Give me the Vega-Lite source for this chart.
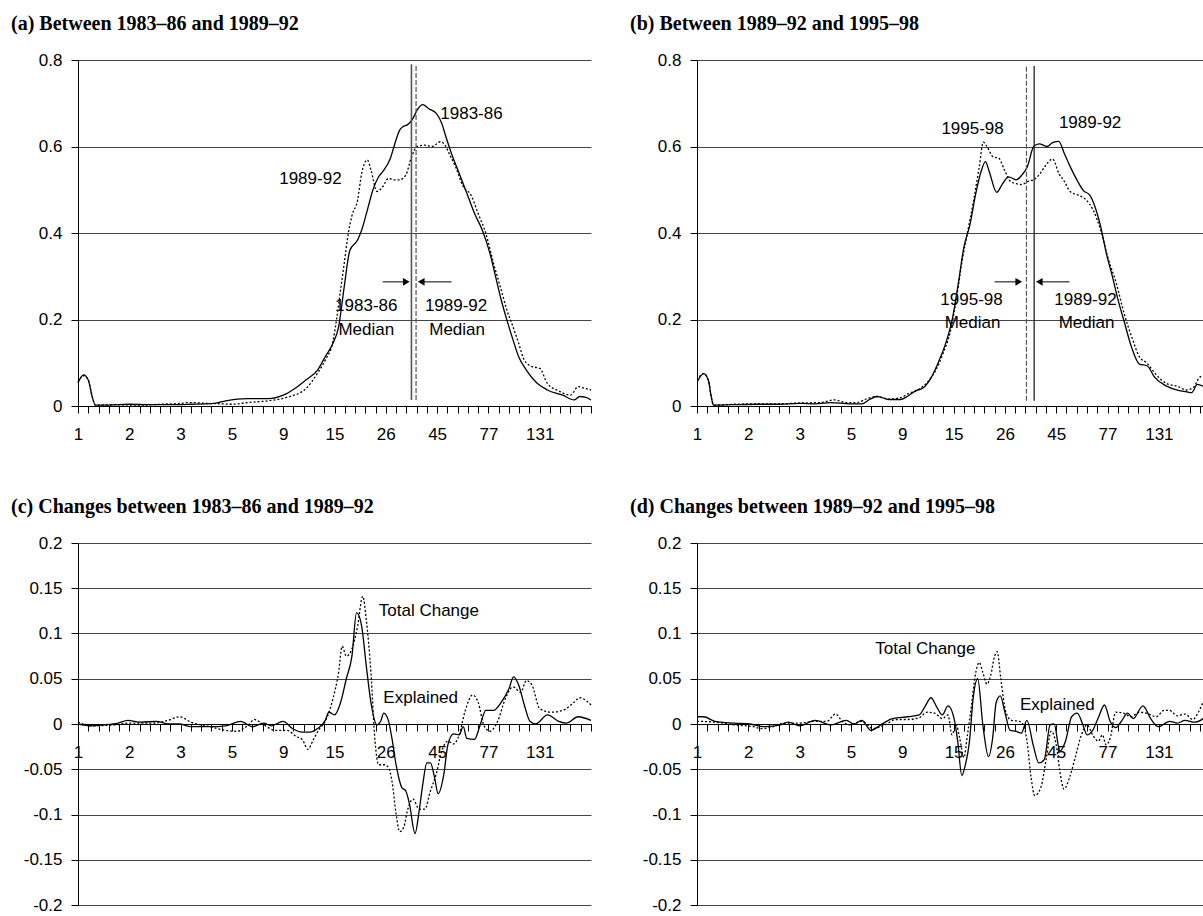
{
  "$schema": "https://vega.github.io/schema/vega-lite/v6.json",
  "padding": {"left": 11, "top": 14, "right": 0, "bottom": 0},
  "background": "white",
  "bounds": "flush",
  "columns": 2,
  "spacing": {"row": 137, "column": 106},
  "config": {
    "view": {"stroke": null},
    "axis": {"labelFont": "Liberation Sans", "labelFontSize": 17, "labelColor": "black", "domainColor": "black", "tickColor": "black", "tickSize": 7, "gridColor": "#444", "gridWidth": 1, "labelFlush": false, "labelOverlap": false},
    "axisX": {"grid": false, "labelPadding": 13},
    "axisY": {"grid": true, "labelPadding": 9},
    "title": {"font": "Liberation Serif", "fontSize": 20, "fontWeight": "bold", "color": "black", "anchor": "start", "frame": "group", "dx": -67, "offset": 17},
    "text": {"font": "Liberation Sans", "fontSize": 17, "color": "black"}
  },
  "datasets": {
    "a_lines": [
      {"series": "1983-86", "x": 0, "y": 0.054}, {"series": "1983-86", "x": 0.11, "y": 0.072}, {"series": "1983-86", "x": 0.2, "y": 0.06}, {"series": "1983-86", "x": 0.28, "y": 0.02}, {"series": "1983-86", "x": 0.34, "y": 0.002}, {"series": "1983-86", "x": 0.6, "y": 0.002}, {"series": "1983-86", "x": 1.0, "y": 0.004}, {"series": "1983-86", "x": 1.4, "y": 0.003}, {"series": "1983-86", "x": 1.8, "y": 0.003}, {"series": "1983-86", "x": 2.2, "y": 0.004}, {"series": "1983-86", "x": 2.65, "y": 0.006}, {"series": "1983-86", "x": 2.88, "y": 0.012}, {"series": "1983-86", "x": 3.3, "y": 0.017}, {"series": "1983-86", "x": 3.7, "y": 0.017}, {"series": "1983-86", "x": 4.0, "y": 0.025}, {"series": "1983-86", "x": 4.22, "y": 0.04}, {"series": "1983-86", "x": 4.44, "y": 0.06}, {"series": "1983-86", "x": 4.67, "y": 0.083}, {"series": "1983-86", "x": 4.82, "y": 0.114}, {"series": "1983-86", "x": 4.97, "y": 0.145}, {"series": "1983-86", "x": 5.08, "y": 0.183}, {"series": "1983-86", "x": 5.19, "y": 0.276}, {"series": "1983-86", "x": 5.3, "y": 0.36}, {"series": "1983-86", "x": 5.45, "y": 0.384}, {"series": "1983-86", "x": 5.53, "y": 0.407}, {"series": "1983-86", "x": 5.64, "y": 0.453}, {"series": "1983-86", "x": 5.75, "y": 0.5}, {"series": "1983-86", "x": 5.86, "y": 0.53}, {"series": "1983-86", "x": 5.94, "y": 0.542}, {"series": "1983-86", "x": 6.09, "y": 0.573}, {"series": "1983-86", "x": 6.16, "y": 0.6}, {"series": "1983-86", "x": 6.27, "y": 0.638}, {"series": "1983-86", "x": 6.35, "y": 0.647}, {"series": "1983-86", "x": 6.42, "y": 0.65}, {"series": "1983-86", "x": 6.53, "y": 0.665}, {"series": "1983-86", "x": 6.61, "y": 0.684}, {"series": "1983-86", "x": 6.72, "y": 0.697}, {"series": "1983-86", "x": 6.83, "y": 0.688}, {"series": "1983-86", "x": 6.98, "y": 0.677}, {"series": "1983-86", "x": 7.09, "y": 0.654}, {"series": "1983-86", "x": 7.17, "y": 0.623}, {"series": "1983-86", "x": 7.28, "y": 0.584}, {"series": "1983-86", "x": 7.43, "y": 0.538}, {"series": "1983-86", "x": 7.58, "y": 0.492}, {"series": "1983-86", "x": 7.73, "y": 0.445}, {"series": "1983-86", "x": 7.88, "y": 0.407}, {"series": "1983-86", "x": 8.03, "y": 0.353}, {"series": "1983-86", "x": 8.14, "y": 0.299}, {"series": "1983-86", "x": 8.25, "y": 0.245}, {"series": "1983-86", "x": 8.36, "y": 0.199}, {"series": "1983-86", "x": 8.48, "y": 0.153}, {"series": "1983-86", "x": 8.59, "y": 0.114}, {"series": "1983-86", "x": 8.74, "y": 0.083}, {"series": "1983-86", "x": 8.92, "y": 0.056}, {"series": "1983-86", "x": 9.15, "y": 0.037}, {"series": "1983-86", "x": 9.45, "y": 0.025}, {"series": "1983-86", "x": 9.67, "y": 0.014}, {"series": "1983-86", "x": 9.78, "y": 0.022}, {"series": "1983-86", "x": 9.9, "y": 0.02}, {"series": "1983-86", "x": 10.0, "y": 0.014},
      {"series": "1989-92", "x": 0, "y": 0.055}, {"series": "1989-92", "x": 0.11, "y": 0.07}, {"series": "1989-92", "x": 0.2, "y": 0.06}, {"series": "1989-92", "x": 0.28, "y": 0.02}, {"series": "1989-92", "x": 0.34, "y": 0.002}, {"series": "1989-92", "x": 0.7, "y": 0.003}, {"series": "1989-92", "x": 1.2, "y": 0.002}, {"series": "1989-92", "x": 1.6, "y": 0.004}, {"series": "1989-92", "x": 2.0, "y": 0.006}, {"series": "1989-92", "x": 2.2, "y": 0.008}, {"series": "1989-92", "x": 2.5, "y": 0.006}, {"series": "1989-92", "x": 2.8, "y": 0.005}, {"series": "1989-92", "x": 3.0, "y": 0.004}, {"series": "1989-92", "x": 3.3, "y": 0.008}, {"series": "1989-92", "x": 3.7, "y": 0.012}, {"series": "1989-92", "x": 4.07, "y": 0.02}, {"series": "1989-92", "x": 4.44, "y": 0.04}, {"series": "1989-92", "x": 4.67, "y": 0.076}, {"series": "1989-92", "x": 4.82, "y": 0.106}, {"series": "1989-92", "x": 4.97, "y": 0.15}, {"series": "1989-92", "x": 5.04, "y": 0.2}, {"series": "1989-92", "x": 5.12, "y": 0.27}, {"series": "1989-92", "x": 5.19, "y": 0.33}, {"series": "1989-92", "x": 5.27, "y": 0.4}, {"series": "1989-92", "x": 5.34, "y": 0.44}, {"series": "1989-92", "x": 5.45, "y": 0.476}, {"series": "1989-92", "x": 5.53, "y": 0.538}, {"series": "1989-92", "x": 5.64, "y": 0.569}, {"series": "1989-92", "x": 5.71, "y": 0.546}, {"series": "1989-92", "x": 5.83, "y": 0.496}, {"series": "1989-92", "x": 5.94, "y": 0.507}, {"series": "1989-92", "x": 6.05, "y": 0.526}, {"series": "1989-92", "x": 6.16, "y": 0.523}, {"series": "1989-92", "x": 6.27, "y": 0.523}, {"series": "1989-92", "x": 6.39, "y": 0.534}, {"series": "1989-92", "x": 6.5, "y": 0.575}, {"series": "1989-92", "x": 6.61, "y": 0.6}, {"series": "1989-92", "x": 6.76, "y": 0.603}, {"series": "1989-92", "x": 6.91, "y": 0.6}, {"series": "1989-92", "x": 7.06, "y": 0.611}, {"series": "1989-92", "x": 7.13, "y": 0.607}, {"series": "1989-92", "x": 7.25, "y": 0.58}, {"series": "1989-92", "x": 7.36, "y": 0.553}, {"series": "1989-92", "x": 7.51, "y": 0.507}, {"series": "1989-92", "x": 7.66, "y": 0.488}, {"series": "1989-92", "x": 7.8, "y": 0.445}, {"series": "1989-92", "x": 7.95, "y": 0.399}, {"series": "1989-92", "x": 8.1, "y": 0.33}, {"series": "1989-92", "x": 8.25, "y": 0.268}, {"series": "1989-92", "x": 8.36, "y": 0.222}, {"series": "1989-92", "x": 8.48, "y": 0.183}, {"series": "1989-92", "x": 8.59, "y": 0.145}, {"series": "1989-92", "x": 8.7, "y": 0.106}, {"series": "1989-92", "x": 8.85, "y": 0.091}, {"series": "1989-92", "x": 9.0, "y": 0.087}, {"series": "1989-92", "x": 9.15, "y": 0.052}, {"series": "1989-92", "x": 9.37, "y": 0.035}, {"series": "1989-92", "x": 9.6, "y": 0.025}, {"series": "1989-92", "x": 9.75, "y": 0.045}, {"series": "1989-92", "x": 9.9, "y": 0.04}, {"series": "1989-92", "x": 10.0, "y": 0.037}
    ],
    "a_med": [
      {"series": "1983-86", "x": 6.5, "ylo": 0.014, "yhi": 0.79},
      {"series": "1989-92", "x": 6.59, "ylo": 0.014, "yhi": 0.79}
    ],
    "a_arrows": [
      {"x": 5.94, "xtip": 6.4, "y": 0.287, "dir": "right"},
      {"x": 7.28, "xtip": 6.69, "y": 0.287, "dir": "left"}
    ],
    "a_text": [
      {"x": 7.67, "y": 0.674, "label": "1983-86"},
      {"x": 4.53, "y": 0.524, "label": "1989-92"},
      {"x": 5.62, "y": 0.231, "label": "1983-86"},
      {"x": 5.62, "y": 0.176, "label": "Median"},
      {"x": 7.37, "y": 0.231, "label": "1989-92"},
      {"x": 7.39, "y": 0.176, "label": "Median"}
    ],
    "b_lines": [
      {"series": "1989-92", "x": 0, "y": 0.055}, {"series": "1989-92", "x": 0.13, "y": 0.075}, {"series": "1989-92", "x": 0.22, "y": 0.06}, {"series": "1989-92", "x": 0.28, "y": 0.02}, {"series": "1989-92", "x": 0.32, "y": 0.002}, {"series": "1989-92", "x": 0.7, "y": 0.003}, {"series": "1989-92", "x": 1.2, "y": 0.004}, {"series": "1989-92", "x": 1.6, "y": 0.004}, {"series": "1989-92", "x": 2.0, "y": 0.006}, {"series": "1989-92", "x": 2.31, "y": 0.005}, {"series": "1989-92", "x": 2.61, "y": 0.008}, {"series": "1989-92", "x": 2.98, "y": 0.005}, {"series": "1989-92", "x": 3.21, "y": 0.005}, {"series": "1989-92", "x": 3.36, "y": 0.015}, {"series": "1989-92", "x": 3.51, "y": 0.022}, {"series": "1989-92", "x": 3.74, "y": 0.015}, {"series": "1989-92", "x": 3.96, "y": 0.015}, {"series": "1989-92", "x": 4.11, "y": 0.023}, {"series": "1989-92", "x": 4.26, "y": 0.035}, {"series": "1989-92", "x": 4.41, "y": 0.042}, {"series": "1989-92", "x": 4.56, "y": 0.065}, {"series": "1989-92", "x": 4.71, "y": 0.103}, {"series": "1989-92", "x": 4.86, "y": 0.15}, {"series": "1989-92", "x": 4.98, "y": 0.204}, {"series": "1989-92", "x": 5.09, "y": 0.282}, {"series": "1989-92", "x": 5.2, "y": 0.367}, {"series": "1989-92", "x": 5.32, "y": 0.42}, {"series": "1989-92", "x": 5.43, "y": 0.49}, {"series": "1989-92", "x": 5.54, "y": 0.544}, {"series": "1989-92", "x": 5.62, "y": 0.565}, {"series": "1989-92", "x": 5.69, "y": 0.544}, {"series": "1989-92", "x": 5.84, "y": 0.494}, {"series": "1989-92", "x": 5.95, "y": 0.513}, {"series": "1989-92", "x": 6.07, "y": 0.53}, {"series": "1989-92", "x": 6.22, "y": 0.523}, {"series": "1989-92", "x": 6.33, "y": 0.534}, {"series": "1989-92", "x": 6.44, "y": 0.554}, {"series": "1989-92", "x": 6.56, "y": 0.6}, {"series": "1989-92", "x": 6.67, "y": 0.606}, {"series": "1989-92", "x": 6.82, "y": 0.6}, {"series": "1989-92", "x": 6.93, "y": 0.609}, {"series": "1989-92", "x": 7.05, "y": 0.612}, {"series": "1989-92", "x": 7.16, "y": 0.583}, {"series": "1989-92", "x": 7.27, "y": 0.554}, {"series": "1989-92", "x": 7.42, "y": 0.519}, {"series": "1989-92", "x": 7.53, "y": 0.498}, {"series": "1989-92", "x": 7.65, "y": 0.488}, {"series": "1989-92", "x": 7.76, "y": 0.459}, {"series": "1989-92", "x": 7.87, "y": 0.413}, {"series": "1989-92", "x": 7.98, "y": 0.351}, {"series": "1989-92", "x": 8.1, "y": 0.297}, {"series": "1989-92", "x": 8.21, "y": 0.243}, {"series": "1989-92", "x": 8.32, "y": 0.197}, {"series": "1989-92", "x": 8.47, "y": 0.135}, {"series": "1989-92", "x": 8.62, "y": 0.097}, {"series": "1989-92", "x": 8.77, "y": 0.093}, {"series": "1989-92", "x": 8.92, "y": 0.066}, {"series": "1989-92", "x": 9.15, "y": 0.046}, {"series": "1989-92", "x": 9.38, "y": 0.036}, {"series": "1989-92", "x": 9.53, "y": 0.033}, {"series": "1989-92", "x": 9.64, "y": 0.031}, {"series": "1989-92", "x": 9.75, "y": 0.05}, {"series": "1989-92", "x": 9.86, "y": 0.046},
      {"series": "1995-98", "x": 0, "y": 0.06}, {"series": "1995-98", "x": 0.13, "y": 0.075}, {"series": "1995-98", "x": 0.22, "y": 0.06}, {"series": "1995-98", "x": 0.28, "y": 0.02}, {"series": "1995-98", "x": 0.32, "y": 0.002}, {"series": "1995-98", "x": 0.7, "y": 0.004}, {"series": "1995-98", "x": 1.2, "y": 0.005}, {"series": "1995-98", "x": 1.6, "y": 0.005}, {"series": "1995-98", "x": 2.0, "y": 0.007}, {"series": "1995-98", "x": 2.4, "y": 0.008}, {"series": "1995-98", "x": 2.68, "y": 0.014}, {"series": "1995-98", "x": 2.9, "y": 0.008}, {"series": "1995-98", "x": 3.1, "y": 0.008}, {"series": "1995-98", "x": 3.36, "y": 0.019}, {"series": "1995-98", "x": 3.51, "y": 0.022}, {"series": "1995-98", "x": 3.74, "y": 0.016}, {"series": "1995-98", "x": 3.96, "y": 0.019}, {"series": "1995-98", "x": 4.11, "y": 0.028}, {"series": "1995-98", "x": 4.34, "y": 0.04}, {"series": "1995-98", "x": 4.49, "y": 0.055}, {"series": "1995-98", "x": 4.64, "y": 0.08}, {"series": "1995-98", "x": 4.79, "y": 0.12}, {"series": "1995-98", "x": 4.94, "y": 0.174}, {"series": "1995-98", "x": 5.05, "y": 0.245}, {"series": "1995-98", "x": 5.17, "y": 0.338}, {"series": "1995-98", "x": 5.28, "y": 0.407}, {"series": "1995-98", "x": 5.39, "y": 0.475}, {"series": "1995-98", "x": 5.5, "y": 0.553}, {"series": "1995-98", "x": 5.58, "y": 0.61}, {"series": "1995-98", "x": 5.65, "y": 0.6}, {"series": "1995-98", "x": 5.77, "y": 0.576}, {"series": "1995-98", "x": 5.88, "y": 0.573}, {"series": "1995-98", "x": 5.99, "y": 0.546}, {"series": "1995-98", "x": 6.11, "y": 0.519}, {"series": "1995-98", "x": 6.22, "y": 0.514}, {"series": "1995-98", "x": 6.33, "y": 0.512}, {"series": "1995-98", "x": 6.44, "y": 0.519}, {"series": "1995-98", "x": 6.56, "y": 0.523}, {"series": "1995-98", "x": 6.67, "y": 0.535}, {"series": "1995-98", "x": 6.78, "y": 0.554}, {"series": "1995-98", "x": 6.93, "y": 0.571}, {"series": "1995-98", "x": 7.05, "y": 0.538}, {"series": "1995-98", "x": 7.16, "y": 0.519}, {"series": "1995-98", "x": 7.27, "y": 0.496}, {"series": "1995-98", "x": 7.42, "y": 0.488}, {"series": "1995-98", "x": 7.57, "y": 0.478}, {"series": "1995-98", "x": 7.72, "y": 0.453}, {"series": "1995-98", "x": 7.87, "y": 0.405}, {"series": "1995-98", "x": 8.02, "y": 0.338}, {"series": "1995-98", "x": 8.17, "y": 0.284}, {"series": "1995-98", "x": 8.32, "y": 0.215}, {"series": "1995-98", "x": 8.47, "y": 0.16}, {"series": "1995-98", "x": 8.62, "y": 0.114}, {"series": "1995-98", "x": 8.77, "y": 0.099}, {"series": "1995-98", "x": 8.92, "y": 0.076}, {"series": "1995-98", "x": 9.15, "y": 0.052}, {"series": "1995-98", "x": 9.38, "y": 0.045}, {"series": "1995-98", "x": 9.53, "y": 0.037}, {"series": "1995-98", "x": 9.68, "y": 0.044}, {"series": "1995-98", "x": 9.79, "y": 0.066}, {"series": "1995-98", "x": 9.86, "y": 0.07}
    ],
    "b_med": [
      {"series": "1989-92", "x": 6.57, "ylo": 0.012, "yhi": 0.786},
      {"series": "1995-98", "x": 6.42, "ylo": 0.012, "yhi": 0.786}
    ],
    "b_arrows": [
      {"x": 5.8, "xtip": 6.27, "y": 0.287, "dir": "right"},
      {"x": 7.26, "xtip": 6.67, "y": 0.287, "dir": "left"}
    ],
    "b_text": [
      {"x": 5.37, "y": 0.641, "label": "1995-98"},
      {"x": 7.66, "y": 0.654, "label": "1989-92"},
      {"x": 5.35, "y": 0.246, "label": "1995-98"},
      {"x": 5.37, "y": 0.193, "label": "Median"},
      {"x": 7.57, "y": 0.246, "label": "1989-92"},
      {"x": 7.59, "y": 0.193, "label": "Median"}
    ],
    "c_lines": [
      {"series": "Explained", "x": 0, "y": 0}, {"series": "Explained", "x": 0.26, "y": -0.002}, {"series": "Explained", "x": 0.49, "y": -0.001}, {"series": "Explained", "x": 0.78, "y": 0.001}, {"series": "Explained", "x": 0.97, "y": 0.004}, {"series": "Explained", "x": 1.23, "y": 0.002}, {"series": "Explained", "x": 1.53, "y": 0.003}, {"series": "Explained", "x": 1.76, "y": 0}, {"series": "Explained", "x": 1.98, "y": 0}, {"series": "Explained", "x": 2.2, "y": -0.003}, {"series": "Explained", "x": 2.58, "y": -0.003}, {"series": "Explained", "x": 2.88, "y": -0.002}, {"series": "Explained", "x": 3.17, "y": 0.003}, {"series": "Explained", "x": 3.4, "y": -0.003}, {"series": "Explained", "x": 3.62, "y": 0.001}, {"series": "Explained", "x": 3.77, "y": -0.002}, {"series": "Explained", "x": 4.0, "y": 0.003}, {"series": "Explained", "x": 4.18, "y": -0.005}, {"series": "Explained", "x": 4.37, "y": -0.009}, {"series": "Explained", "x": 4.52, "y": -0.009}, {"series": "Explained", "x": 4.67, "y": -0.005}, {"series": "Explained", "x": 4.82, "y": 0.004}, {"series": "Explained", "x": 4.89, "y": 0.013}, {"series": "Explained", "x": 5.0, "y": 0.01}, {"series": "Explained", "x": 5.12, "y": 0.024}, {"series": "Explained", "x": 5.23, "y": 0.05}, {"series": "Explained", "x": 5.34, "y": 0.075}, {"series": "Explained", "x": 5.43, "y": 0.123}, {"series": "Explained", "x": 5.53, "y": 0.108}, {"series": "Explained", "x": 5.62, "y": 0.064}, {"series": "Explained", "x": 5.71, "y": 0.024}, {"series": "Explained", "x": 5.83, "y": -0.001}, {"series": "Explained", "x": 5.9, "y": 0.003}, {"series": "Explained", "x": 5.96, "y": 0.012}, {"series": "Explained", "x": 6.05, "y": 0.004}, {"series": "Explained", "x": 6.12, "y": -0.016}, {"series": "Explained", "x": 6.2, "y": -0.045}, {"series": "Explained", "x": 6.31, "y": -0.07}, {"series": "Explained", "x": 6.39, "y": -0.074}, {"series": "Explained", "x": 6.46, "y": -0.088}, {"series": "Explained", "x": 6.57, "y": -0.121}, {"series": "Explained", "x": 6.65, "y": -0.096}, {"series": "Explained", "x": 6.72, "y": -0.067}, {"series": "Explained", "x": 6.8, "y": -0.043}, {"series": "Explained", "x": 6.87, "y": -0.043}, {"series": "Explained", "x": 6.95, "y": -0.059}, {"series": "Explained", "x": 7.02, "y": -0.077}, {"series": "Explained", "x": 7.13, "y": -0.056}, {"series": "Explained", "x": 7.21, "y": -0.023}, {"series": "Explained", "x": 7.32, "y": -0.011}, {"series": "Explained", "x": 7.43, "y": -0.012}, {"series": "Explained", "x": 7.51, "y": -0.003}, {"series": "Explained", "x": 7.58, "y": -0.016}, {"series": "Explained", "x": 7.73, "y": -0.017}, {"series": "Explained", "x": 7.84, "y": -0.001}, {"series": "Explained", "x": 7.95, "y": 0.015}, {"series": "Explained", "x": 8.1, "y": 0.015}, {"series": "Explained", "x": 8.25, "y": 0.024}, {"series": "Explained", "x": 8.4, "y": 0.039}, {"series": "Explained", "x": 8.49, "y": 0.052}, {"series": "Explained", "x": 8.59, "y": 0.043}, {"series": "Explained", "x": 8.7, "y": 0.021}, {"series": "Explained", "x": 8.81, "y": 0.003}, {"series": "Explained", "x": 8.92, "y": 0}, {"series": "Explained", "x": 9.15, "y": 0.01}, {"series": "Explained", "x": 9.37, "y": 0.003}, {"series": "Explained", "x": 9.52, "y": 0.001}, {"series": "Explained", "x": 9.75, "y": 0.008}, {"series": "Explained", "x": 10.0, "y": 0.004},
      {"series": "Total Change", "x": 0, "y": 0.002}, {"series": "Total Change", "x": 0.26, "y": -0.002}, {"series": "Total Change", "x": 0.71, "y": -0.001}, {"series": "Total Change", "x": 1.01, "y": 0.001}, {"series": "Total Change", "x": 1.46, "y": 0.001}, {"series": "Total Change", "x": 1.75, "y": 0.004}, {"series": "Total Change", "x": 1.98, "y": 0.008}, {"series": "Total Change", "x": 2.2, "y": 0.002}, {"series": "Total Change", "x": 2.58, "y": -0.003}, {"series": "Total Change", "x": 2.88, "y": -0.007}, {"series": "Total Change", "x": 3.1, "y": -0.008}, {"series": "Total Change", "x": 3.32, "y": -0.001}, {"series": "Total Change", "x": 3.44, "y": 0.005}, {"series": "Total Change", "x": 3.62, "y": -0.001}, {"series": "Total Change", "x": 3.85, "y": -0.007}, {"series": "Total Change", "x": 4.07, "y": -0.007}, {"series": "Total Change", "x": 4.26, "y": -0.014}, {"series": "Total Change", "x": 4.37, "y": -0.017}, {"series": "Total Change", "x": 4.48, "y": -0.028}, {"series": "Total Change", "x": 4.59, "y": -0.017}, {"series": "Total Change", "x": 4.71, "y": -0.005}, {"series": "Total Change", "x": 4.82, "y": 0.003}, {"series": "Total Change", "x": 4.97, "y": 0.028}, {"series": "Total Change", "x": 5.08, "y": 0.057}, {"series": "Total Change", "x": 5.15, "y": 0.086}, {"series": "Total Change", "x": 5.23, "y": 0.075}, {"series": "Total Change", "x": 5.34, "y": 0.083}, {"series": "Total Change", "x": 5.45, "y": 0.108}, {"series": "Total Change", "x": 5.55, "y": 0.141}, {"series": "Total Change", "x": 5.62, "y": 0.115}, {"series": "Total Change", "x": 5.71, "y": 0.057}, {"series": "Total Change", "x": 5.79, "y": -0.019}, {"series": "Total Change", "x": 5.86, "y": -0.045}, {"series": "Total Change", "x": 5.97, "y": -0.045}, {"series": "Total Change", "x": 6.05, "y": -0.048}, {"series": "Total Change", "x": 6.12, "y": -0.063}, {"series": "Total Change", "x": 6.2, "y": -0.099}, {"series": "Total Change", "x": 6.27, "y": -0.119}, {"series": "Total Change", "x": 6.35, "y": -0.114}, {"series": "Total Change", "x": 6.42, "y": -0.096}, {"series": "Total Change", "x": 6.53, "y": -0.083}, {"series": "Total Change", "x": 6.65, "y": -0.094}, {"series": "Total Change", "x": 6.76, "y": -0.094}, {"series": "Total Change", "x": 6.87, "y": -0.074}, {"series": "Total Change", "x": 6.98, "y": -0.056}, {"series": "Total Change", "x": 7.09, "y": -0.03}, {"series": "Total Change", "x": 7.21, "y": -0.019}, {"series": "Total Change", "x": 7.32, "y": -0.022}, {"series": "Total Change", "x": 7.43, "y": -0.012}, {"series": "Total Change", "x": 7.54, "y": 0.013}, {"series": "Total Change", "x": 7.69, "y": 0.032}, {"series": "Total Change", "x": 7.8, "y": 0.024}, {"series": "Total Change", "x": 7.91, "y": -0.001}, {"series": "Total Change", "x": 8.03, "y": -0.008}, {"series": "Total Change", "x": 8.18, "y": 0.003}, {"series": "Total Change", "x": 8.33, "y": 0.028}, {"series": "Total Change", "x": 8.48, "y": 0.041}, {"series": "Total Change", "x": 8.63, "y": 0.035}, {"series": "Total Change", "x": 8.74, "y": 0.048}, {"series": "Total Change", "x": 8.85, "y": 0.043}, {"series": "Total Change", "x": 9.0, "y": 0.017}, {"series": "Total Change", "x": 9.22, "y": 0.013}, {"series": "Total Change", "x": 9.45, "y": 0.015}, {"series": "Total Change", "x": 9.67, "y": 0.024}, {"series": "Total Change", "x": 9.78, "y": 0.029}, {"series": "Total Change", "x": 10.0, "y": 0.021}
    ],
    "c_text": [
      {"x": 6.84, "y": 0.125, "label": "Total Change"},
      {"x": 6.68, "y": 0.029, "label": "Explained"}
    ],
    "d_lines": [
      {"series": "Explained", "x": 0, "y": 0.008}, {"series": "Explained", "x": 0.13, "y": 0.008}, {"series": "Explained", "x": 0.35, "y": 0.003}, {"series": "Explained", "x": 0.73, "y": 0.001}, {"series": "Explained", "x": 1.03, "y": 0}, {"series": "Explained", "x": 1.33, "y": -0.003}, {"series": "Explained", "x": 1.63, "y": -0.001}, {"series": "Explained", "x": 1.78, "y": 0.002}, {"series": "Explained", "x": 2.0, "y": -0.002}, {"series": "Explained", "x": 2.3, "y": 0.004}, {"series": "Explained", "x": 2.61, "y": -0.001}, {"series": "Explained", "x": 2.91, "y": 0.004}, {"series": "Explained", "x": 3.06, "y": 0}, {"series": "Explained", "x": 3.21, "y": 0.004}, {"series": "Explained", "x": 3.39, "y": -0.007}, {"series": "Explained", "x": 3.58, "y": -0.001}, {"series": "Explained", "x": 3.81, "y": 0.006}, {"series": "Explained", "x": 4.11, "y": 0.008}, {"series": "Explained", "x": 4.33, "y": 0.01}, {"series": "Explained", "x": 4.44, "y": 0.019}, {"series": "Explained", "x": 4.56, "y": 0.029}, {"series": "Explained", "x": 4.67, "y": 0.019}, {"series": "Explained", "x": 4.78, "y": 0.01}, {"series": "Explained", "x": 4.89, "y": 0.02}, {"series": "Explained", "x": 5.01, "y": 0.006}, {"series": "Explained", "x": 5.08, "y": -0.019}, {"series": "Explained", "x": 5.16, "y": -0.057}, {"series": "Explained", "x": 5.23, "y": -0.045}, {"series": "Explained", "x": 5.31, "y": -0.019}, {"series": "Explained", "x": 5.38, "y": 0.028}, {"series": "Explained", "x": 5.47, "y": 0.05}, {"series": "Explained", "x": 5.57, "y": -0.001}, {"series": "Explained", "x": 5.68, "y": -0.036}, {"series": "Explained", "x": 5.76, "y": -0.016}, {"series": "Explained", "x": 5.83, "y": 0.024}, {"series": "Explained", "x": 5.91, "y": 0.031}, {"series": "Explained", "x": 6.0, "y": 0.013}, {"series": "Explained", "x": 6.1, "y": -0.007}, {"series": "Explained", "x": 6.21, "y": -0.008}, {"series": "Explained", "x": 6.32, "y": -0.01}, {"series": "Explained", "x": 6.43, "y": 0.004}, {"series": "Explained", "x": 6.55, "y": -0.023}, {"series": "Explained", "x": 6.66, "y": -0.043}, {"series": "Explained", "x": 6.77, "y": -0.039}, {"series": "Explained", "x": 6.88, "y": -0.001}, {"series": "Explained", "x": 6.96, "y": 0}, {"series": "Explained", "x": 7.07, "y": -0.03}, {"series": "Explained", "x": 7.18, "y": -0.019}, {"series": "Explained", "x": 7.3, "y": 0.008}, {"series": "Explained", "x": 7.41, "y": 0.012}, {"series": "Explained", "x": 7.52, "y": -0.001}, {"series": "Explained", "x": 7.6, "y": -0.012}, {"series": "Explained", "x": 7.71, "y": -0.007}, {"series": "Explained", "x": 7.82, "y": 0.007}, {"series": "Explained", "x": 7.94, "y": 0.021}, {"series": "Explained", "x": 8.05, "y": 0.003}, {"series": "Explained", "x": 8.16, "y": -0.004}, {"series": "Explained", "x": 8.27, "y": 0.003}, {"series": "Explained", "x": 8.39, "y": 0.012}, {"series": "Explained", "x": 8.5, "y": 0.006}, {"series": "Explained", "x": 8.69, "y": 0.02}, {"series": "Explained", "x": 8.84, "y": 0.006}, {"series": "Explained", "x": 8.99, "y": -0.003}, {"series": "Explained", "x": 9.21, "y": 0.003}, {"series": "Explained", "x": 9.36, "y": 0.001}, {"series": "Explained", "x": 9.51, "y": 0.004}, {"series": "Explained", "x": 9.7, "y": 0.002}, {"series": "Explained", "x": 9.81, "y": 0.004}, {"series": "Explained", "x": 9.86, "y": 0.006},
      {"series": "Total Change", "x": 0, "y": 0.003}, {"series": "Total Change", "x": 0.35, "y": 0.002}, {"series": "Total Change", "x": 0.73, "y": -0.001}, {"series": "Total Change", "x": 1.1, "y": -0.003}, {"series": "Total Change", "x": 1.25, "y": -0.005}, {"series": "Total Change", "x": 1.48, "y": -0.003}, {"series": "Total Change", "x": 1.7, "y": 0.001}, {"series": "Total Change", "x": 2.0, "y": 0.001}, {"series": "Total Change", "x": 2.3, "y": 0.003}, {"series": "Total Change", "x": 2.53, "y": 0.003}, {"series": "Total Change", "x": 2.7, "y": 0.011}, {"series": "Total Change", "x": 2.83, "y": 0.003}, {"series": "Total Change", "x": 2.98, "y": -0.001}, {"series": "Total Change", "x": 3.21, "y": 0.003}, {"series": "Total Change", "x": 3.43, "y": -0.005}, {"series": "Total Change", "x": 3.66, "y": -0.001}, {"series": "Total Change", "x": 3.88, "y": 0.005}, {"series": "Total Change", "x": 4.11, "y": 0.005}, {"series": "Total Change", "x": 4.33, "y": 0.007}, {"series": "Total Change", "x": 4.48, "y": 0.013}, {"series": "Total Change", "x": 4.63, "y": 0.012}, {"series": "Total Change", "x": 4.78, "y": 0.006}, {"series": "Total Change", "x": 4.89, "y": 0.01}, {"series": "Total Change", "x": 4.97, "y": -0.012}, {"series": "Total Change", "x": 5.05, "y": -0.001}, {"series": "Total Change", "x": 5.12, "y": -0.016}, {"series": "Total Change", "x": 5.2, "y": -0.037}, {"series": "Total Change", "x": 5.27, "y": -0.012}, {"series": "Total Change", "x": 5.35, "y": 0.021}, {"series": "Total Change", "x": 5.42, "y": 0.053}, {"series": "Total Change", "x": 5.5, "y": 0.068}, {"series": "Total Change", "x": 5.57, "y": 0.057}, {"series": "Total Change", "x": 5.65, "y": 0.044}, {"series": "Total Change", "x": 5.72, "y": 0.053}, {"series": "Total Change", "x": 5.8, "y": 0.075}, {"series": "Total Change", "x": 5.85, "y": 0.08}, {"series": "Total Change", "x": 5.92, "y": 0.05}, {"series": "Total Change", "x": 6.02, "y": 0.013}, {"series": "Total Change", "x": 6.13, "y": 0.004}, {"series": "Total Change", "x": 6.28, "y": 0.003}, {"series": "Total Change", "x": 6.36, "y": -0.001}, {"series": "Total Change", "x": 6.43, "y": -0.019}, {"series": "Total Change", "x": 6.51, "y": -0.059}, {"series": "Total Change", "x": 6.58, "y": -0.079}, {"series": "Total Change", "x": 6.7, "y": -0.07}, {"series": "Total Change", "x": 6.81, "y": -0.037}, {"series": "Total Change", "x": 6.9, "y": -0.008}, {"series": "Total Change", "x": 7.0, "y": -0.023}, {"series": "Total Change", "x": 7.07, "y": -0.052}, {"series": "Total Change", "x": 7.15, "y": -0.072}, {"series": "Total Change", "x": 7.26, "y": -0.059}, {"series": "Total Change", "x": 7.37, "y": -0.037}, {"series": "Total Change", "x": 7.49, "y": -0.012}, {"series": "Total Change", "x": 7.6, "y": -0.001}, {"series": "Total Change", "x": 7.71, "y": -0.012}, {"series": "Total Change", "x": 7.82, "y": -0.019}, {"series": "Total Change", "x": 7.9, "y": -0.012}, {"series": "Total Change", "x": 7.97, "y": -0.023}, {"series": "Total Change", "x": 8.05, "y": -0.016}, {"series": "Total Change", "x": 8.16, "y": 0.013}, {"series": "Total Change", "x": 8.31, "y": 0.012}, {"series": "Total Change", "x": 8.46, "y": 0.008}, {"series": "Total Change", "x": 8.61, "y": 0.013}, {"series": "Total Change", "x": 8.76, "y": 0.012}, {"series": "Total Change", "x": 8.95, "y": 0.008}, {"series": "Total Change", "x": 9.1, "y": 0.015}, {"series": "Total Change", "x": 9.21, "y": 0.015}, {"series": "Total Change", "x": 9.36, "y": 0.009}, {"series": "Total Change", "x": 9.51, "y": 0.011}, {"series": "Total Change", "x": 9.66, "y": 0.005}, {"series": "Total Change", "x": 9.77, "y": 0.013}, {"series": "Total Change", "x": 9.86, "y": 0.024}
    ],
    "d_text": [
      {"x": 4.45, "y": 0.083, "label": "Total Change"},
      {"x": 7.02, "y": 0.021, "label": "Explained"}
    ]
  },
  "concat": [
    {
      "width": 513, "height": 346,
      "title": {"text": "(a) Between 1983–86 and 1989–92"},
      "layer": [
        {
          "data": {"name": "a_lines"},
          "transform": [{"filter": "datum.series == '1983-86'"}],
          "mark": {"type": "line", "color": "black", "strokeWidth": 1.3, "interpolate": "monotone"},
          "encoding": {
            "x": {"field": "x", "type": "quantitative", "title": null, "scale": {"domain": [0, 10], "nice": false, "zero": false},
              "axis": {"tickCount": 200, "labelOverlap": false, "labelFlush": false, "values": [0,0.2,0.4,0.6,0.8,1,1.2,1.4,1.6,1.8,2,2.2,2.4,2.6,2.8,3,3.2,3.4,3.6,3.8,4,4.2,4.4,4.6,4.8,5,5.2,5.4,5.6,5.8,6,6.2,6.4,6.6,6.8,7,7.2,7.4,7.6,7.8,8,8.2,8.4,8.6,8.8,9,9.2,9.4,9.6,9.8,10],
                "labelExpr": "['1','2','3','5','9','15','26','45','77','131'][datum.value] || ''"}},
            "y": {"field": "y", "type": "quantitative", "title": null, "scale": {"domain": [0, 0.8], "nice": false},
              "axis": {"labelOverlap": false, "values": [0, 0.2, 0.4, 0.6, 0.8], "labelExpr": "'' + datum.value"}}
          }
        },
        {
          "data": {"name": "a_lines"},
          "transform": [{"filter": "datum.series == '1989-92'"}],
          "mark": {"type": "line", "color": "black", "strokeWidth": 1.3, "strokeDash": [2, 2], "interpolate": "monotone"},
          "encoding": {"x": {"field": "x", "type": "quantitative", "title": null}, "y": {"field": "y", "type": "quantitative", "title": null}}
        },
        {
          "data": {"name": "a_med"},
          "transform": [{"filter": "datum.series == '1983-86'"}],
          "mark": {"type": "rule", "color": "#555", "strokeWidth": 1.6},
          "encoding": {"x": {"field": "x", "type": "quantitative", "title": null}, "y": {"field": "ylo", "type": "quantitative", "title": null}, "y2": {"field": "yhi"}}
        },
        {
          "data": {"name": "a_med"},
          "transform": [{"filter": "datum.series == '1989-92'"}],
          "mark": {"type": "rule", "color": "#555", "strokeWidth": 1.2, "strokeDash": [5, 2]},
          "encoding": {"x": {"field": "x", "type": "quantitative", "title": null}, "y": {"field": "ylo", "type": "quantitative", "title": null}, "y2": {"field": "yhi"}}
        },
        {
          "data": {"name": "a_arrows"},
          "mark": {"type": "rule", "color": "black", "strokeWidth": 1},
          "encoding": {"x": {"field": "x", "type": "quantitative", "title": null}, "x2": {"field": "xtip"}, "y": {"field": "y", "type": "quantitative", "title": null}}
        },
        {
          "data": {"name": "a_arrows"},
          "mark": {"type": "point", "filled": true, "color": "black", "size": 60, "opacity": 1},
          "encoding": {"x": {"field": "xtip", "type": "quantitative", "title": null}, "y": {"field": "y", "type": "quantitative", "title": null},
            "shape": {"field": "dir", "type": "nominal", "scale": {"domain": ["left", "right"], "range": ["triangle-left", "triangle-right"]}, "legend": null}}
        },
        {
          "data": {"name": "a_text"},
          "mark": {"type": "text", "align": "center", "baseline": "middle"},
          "encoding": {"x": {"field": "x", "type": "quantitative", "title": null}, "y": {"field": "y", "type": "quantitative", "title": null}, "text": {"field": "label"}}
        }
      ]
    },
    {
      "width": 506, "height": 346,
      "title": {"text": "(b) Between 1989–92 and 1995–98"},
      "layer": [
        {
          "data": {"name": "b_lines"},
          "transform": [{"filter": "datum.series == '1989-92'"}],
          "mark": {"type": "line", "color": "black", "strokeWidth": 1.3, "interpolate": "monotone", "clip": true},
          "encoding": {
            "x": {"field": "x", "type": "quantitative", "title": null, "scale": {"domain": [0, 9.86], "nice": false, "zero": false},
              "axis": {"tickCount": 200, "labelOverlap": false, "labelFlush": false, "values": [0,0.2,0.4,0.6,0.8,1,1.2,1.4,1.6,1.8,2,2.2,2.4,2.6,2.8,3,3.2,3.4,3.6,3.8,4,4.2,4.4,4.6,4.8,5,5.2,5.4,5.6,5.8,6,6.2,6.4,6.6,6.8,7,7.2,7.4,7.6,7.8,8,8.2,8.4,8.6,8.8,9,9.2,9.4,9.6,9.8],
                "labelExpr": "['1','2','3','5','9','15','26','45','77','131'][datum.value] || ''"}},
            "y": {"field": "y", "type": "quantitative", "title": null, "scale": {"domain": [0, 0.8], "nice": false},
              "axis": {"labelOverlap": false, "values": [0, 0.2, 0.4, 0.6, 0.8], "labelExpr": "'' + datum.value"}}
          }
        },
        {
          "data": {"name": "b_lines"},
          "transform": [{"filter": "datum.series == '1995-98'"}],
          "mark": {"type": "line", "color": "black", "strokeWidth": 1.3, "strokeDash": [2, 2], "interpolate": "monotone", "clip": true},
          "encoding": {"x": {"field": "x", "type": "quantitative", "title": null}, "y": {"field": "y", "type": "quantitative", "title": null}}
        },
        {
          "data": {"name": "b_med"},
          "transform": [{"filter": "datum.series == '1989-92'"}],
          "mark": {"type": "rule", "color": "#222", "strokeWidth": 1.3},
          "encoding": {"x": {"field": "x", "type": "quantitative", "title": null}, "y": {"field": "ylo", "type": "quantitative", "title": null}, "y2": {"field": "yhi"}}
        },
        {
          "data": {"name": "b_med"},
          "transform": [{"filter": "datum.series == '1995-98'"}],
          "mark": {"type": "rule", "color": "#555", "strokeWidth": 1.2, "strokeDash": [5, 2]},
          "encoding": {"x": {"field": "x", "type": "quantitative", "title": null}, "y": {"field": "ylo", "type": "quantitative", "title": null}, "y2": {"field": "yhi"}}
        },
        {
          "data": {"name": "b_arrows"},
          "mark": {"type": "rule", "color": "black", "strokeWidth": 1},
          "encoding": {"x": {"field": "x", "type": "quantitative", "title": null}, "x2": {"field": "xtip"}, "y": {"field": "y", "type": "quantitative", "title": null}}
        },
        {
          "data": {"name": "b_arrows"},
          "mark": {"type": "point", "filled": true, "color": "black", "size": 60, "opacity": 1},
          "encoding": {"x": {"field": "xtip", "type": "quantitative", "title": null}, "y": {"field": "y", "type": "quantitative", "title": null},
            "shape": {"field": "dir", "type": "nominal", "scale": {"domain": ["left", "right"], "range": ["triangle-left", "triangle-right"]}, "legend": null}}
        },
        {
          "data": {"name": "b_text"},
          "mark": {"type": "text", "align": "center", "baseline": "middle"},
          "encoding": {"x": {"field": "x", "type": "quantitative", "title": null}, "y": {"field": "y", "type": "quantitative", "title": null}, "text": {"field": "label"}}
        }
      ]
    },
    {
      "width": 513, "height": 362,
      "title": {"text": "(c) Changes between 1983–86 and 1989–92"},
      "layer": [
        {
          "data": {"name": "c_lines"},
          "transform": [{"filter": "datum.series == 'Explained'"}],
          "mark": {"type": "line", "color": "black", "strokeWidth": 1.3, "interpolate": "monotone"},
          "encoding": {
            "x": {"field": "x", "type": "quantitative", "title": null, "scale": {"domain": [0, 10], "nice": false, "zero": false},
              "axis": {"offset": -181, "tickCount": 200, "labelOverlap": false, "labelFlush": false, "values": [0,0.2,0.4,0.6,0.8,1,1.2,1.4,1.6,1.8,2,2.2,2.4,2.6,2.8,3,3.2,3.4,3.6,3.8,4,4.2,4.4,4.6,4.8,5,5.2,5.4,5.6,5.8,6,6.2,6.4,6.6,6.8,7,7.2,7.4,7.6,7.8,8,8.2,8.4,8.6,8.8,9,9.2,9.4,9.6,9.8,10],
                "labelExpr": "['1','2','3','5','9','15','26','45','77','131'][datum.value] || ''"}},
            "y": {"field": "y", "type": "quantitative", "title": null, "scale": {"domain": [-0.2, 0.2], "nice": false, "zero": false},
              "axis": {"labelOverlap": false, "values": [-0.2, -0.15, -0.1, -0.05, 0, 0.05, 0.1, 0.15, 0.2], "labelExpr": "'' + datum.value"}}
          }
        },
        {
          "data": {"name": "c_lines"},
          "transform": [{"filter": "datum.series == 'Total Change'"}],
          "mark": {"type": "line", "color": "black", "strokeWidth": 1.3, "strokeDash": [2, 2], "interpolate": "monotone"},
          "encoding": {"x": {"field": "x", "type": "quantitative", "title": null}, "y": {"field": "y", "type": "quantitative", "title": null}}
        },
        {
          "data": {"name": "c_text"},
          "mark": {"type": "text", "align": "center", "baseline": "middle"},
          "encoding": {"x": {"field": "x", "type": "quantitative", "title": null}, "y": {"field": "y", "type": "quantitative", "title": null}, "text": {"field": "label"}}
        }
      ]
    },
    {
      "width": 506, "height": 362,
      "title": {"text": "(d) Changes between 1989–92 and 1995–98"},
      "layer": [
        {
          "data": {"name": "d_lines"},
          "transform": [{"filter": "datum.series == 'Explained'"}],
          "mark": {"type": "line", "color": "black", "strokeWidth": 1.3, "interpolate": "monotone", "clip": true},
          "encoding": {
            "x": {"field": "x", "type": "quantitative", "title": null, "scale": {"domain": [0, 9.86], "nice": false, "zero": false},
              "axis": {"offset": -181, "tickCount": 200, "labelOverlap": false, "labelFlush": false, "values": [0,0.2,0.4,0.6,0.8,1,1.2,1.4,1.6,1.8,2,2.2,2.4,2.6,2.8,3,3.2,3.4,3.6,3.8,4,4.2,4.4,4.6,4.8,5,5.2,5.4,5.6,5.8,6,6.2,6.4,6.6,6.8,7,7.2,7.4,7.6,7.8,8,8.2,8.4,8.6,8.8,9,9.2,9.4,9.6,9.8],
                "labelExpr": "['1','2','3','5','9','15','26','45','77','131'][datum.value] || ''"}},
            "y": {"field": "y", "type": "quantitative", "title": null, "scale": {"domain": [-0.2, 0.2], "nice": false, "zero": false},
              "axis": {"labelOverlap": false, "values": [-0.2, -0.15, -0.1, -0.05, 0, 0.05, 0.1, 0.15, 0.2], "labelExpr": "'' + datum.value"}}
          }
        },
        {
          "data": {"name": "d_lines"},
          "transform": [{"filter": "datum.series == 'Total Change'"}],
          "mark": {"type": "line", "color": "black", "strokeWidth": 1.3, "strokeDash": [2, 2], "interpolate": "monotone", "clip": true},
          "encoding": {"x": {"field": "x", "type": "quantitative", "title": null}, "y": {"field": "y", "type": "quantitative", "title": null}}
        },
        {
          "data": {"name": "d_text"},
          "mark": {"type": "text", "align": "center", "baseline": "middle"},
          "encoding": {"x": {"field": "x", "type": "quantitative", "title": null}, "y": {"field": "y", "type": "quantitative", "title": null}, "text": {"field": "label"}}
        }
      ]
    }
  ]
}
